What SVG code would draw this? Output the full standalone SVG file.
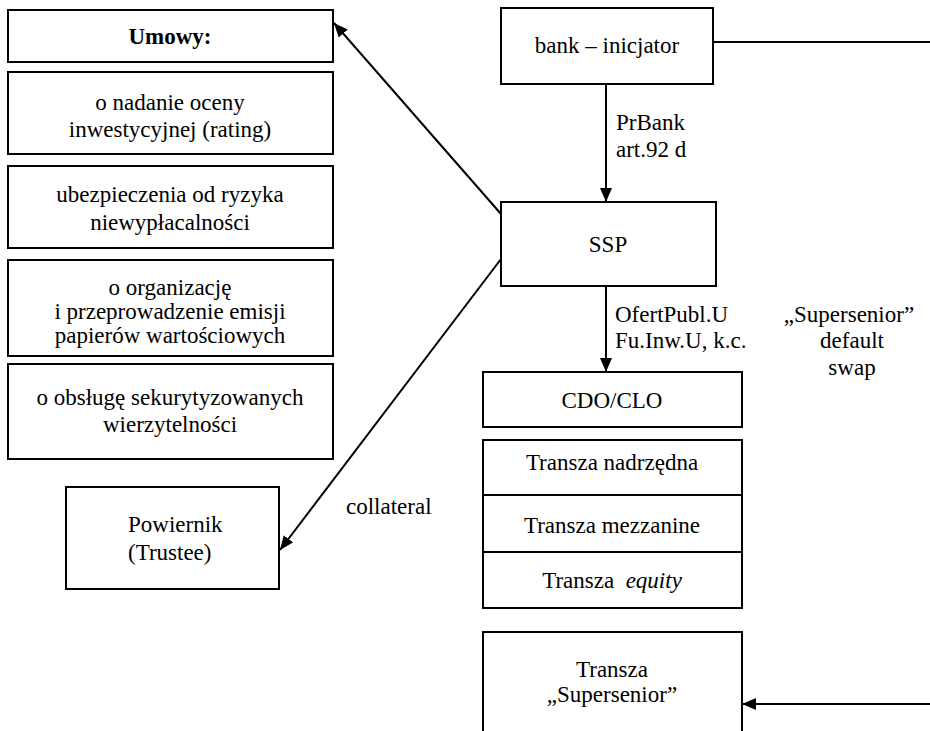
<svg xmlns="http://www.w3.org/2000/svg" width="930" height="731" viewBox="0 0 930 731">
<style>
.b{fill:#fff;stroke:#000;stroke-width:2}
text{font-family:"Times New Roman",Times,"Liberation Serif","Tinos","Noto Serif","DejaVu Serif",serif;font-size:23px;fill:#000}
.c{text-anchor:middle}
.l{stroke:#000;stroke-width:2;fill:none}
</style>
<defs>
<marker id="ah" viewBox="0 0 14 12" refX="14" refY="6" markerWidth="14" markerHeight="12" markerUnits="userSpaceOnUse" orient="auto">
<path d="M0,0 L14,6 L0,12 Z" fill="#000"/>
</marker>
</defs>
<rect width="930" height="731" fill="#fff"/>
<g id="umowy"><rect class="b" x="8" y="10" width="325" height="52"/><text class="c" x="170" y="44" font-weight="bold">Umowy:</text></g>
<g id="rating"><rect class="b" x="8" y="72" width="325" height="82"/><text class="c" x="170" y="110">o nadanie oceny</text><text class="c" x="170" y="137">inwestycyjnej (rating)</text></g>
<g id="ubezp"><rect class="b" x="8" y="166" width="325" height="82"/><text class="c" x="170" y="202">ubezpieczenia od ryzyka</text><text class="c" x="170" y="230">niewypłacalności</text></g>
<g id="organiz"><rect class="b" x="8" y="260" width="325" height="96"/><text class="c" x="170" y="295">o organizację</text><text class="c" x="170" y="319">i przeprowadzenie emisji</text><text class="c" x="170" y="343">papierów wartościowych</text></g>
<g id="obsluga"><rect class="b" x="8" y="364" width="325" height="95"/><text class="c" x="170" y="405">o obsługę sekurytyzowanych</text><text class="c" x="170" y="432">wierzytelności</text></g>
<g id="powiernik"><rect class="b" x="66" y="487" width="213" height="102"/><text x="128" y="532">Powiernik</text><text x="128" y="560">(Trustee)</text></g>
<g id="bank"><rect class="b" x="501" y="8" width="212" height="76"/><text class="c" x="607" y="53">bank – inicjator</text></g>
<g id="ssp"><rect class="b" x="501" y="202" width="215" height="84"/><text class="c" x="608" y="252">SSP</text></g>
<g id="cdo"><rect class="b" x="483" y="372" width="259" height="55"/><text class="c" x="612" y="408">CDO/CLO</text></g>
<g id="transze"><rect class="b" x="483" y="440" width="259" height="168"/><line class="l" x1="483" y1="495" x2="742" y2="495"/><line class="l" x1="483" y1="552" x2="742" y2="552"/><text class="c" x="612" y="470">Transza nadrzędna</text><text class="c" x="612" y="533">Transza mezzanine</text><text class="c" x="612" y="588" xml:space="preserve">Transza  <tspan font-style="italic">equity</tspan></text></g>
<g id="supersenior"><rect class="b" x="483" y="632" width="259" height="110"/><text class="c" x="612" y="677">Transza</text><text class="c" x="612" y="702">„Supersenior”</text></g>
<g id="connectors">
<line class="l" x1="606" y1="84" x2="606" y2="202" marker-end="url(#ah)"/>
<line class="l" x1="501" y1="214" x2="334" y2="23" marker-end="url(#ah)"/>
<line class="l" x1="501" y1="259" x2="280" y2="550" marker-end="url(#ah)"/>
<line class="l" x1="606" y1="286" x2="606" y2="372" marker-end="url(#ah)"/>
<line class="l" x1="713" y1="42" x2="930" y2="42"/>
<line class="l" x1="930" y1="704" x2="742" y2="704" marker-end="url(#ah)"/>
<text x="616" y="130">PrBank</text>
<text x="616" y="157">art.92 d</text>
<text x="615" y="322">OfertPubl.U</text>
<text x="615" y="348">Fu.Inw.U, k.c.</text>
<text class="c" x="849" y="322">„Supersenior”</text>
<text class="c" x="852" y="348">default</text>
<text class="c" x="852" y="375">swap</text>
<text x="346" y="514">collateral</text>
</g>
</svg>
